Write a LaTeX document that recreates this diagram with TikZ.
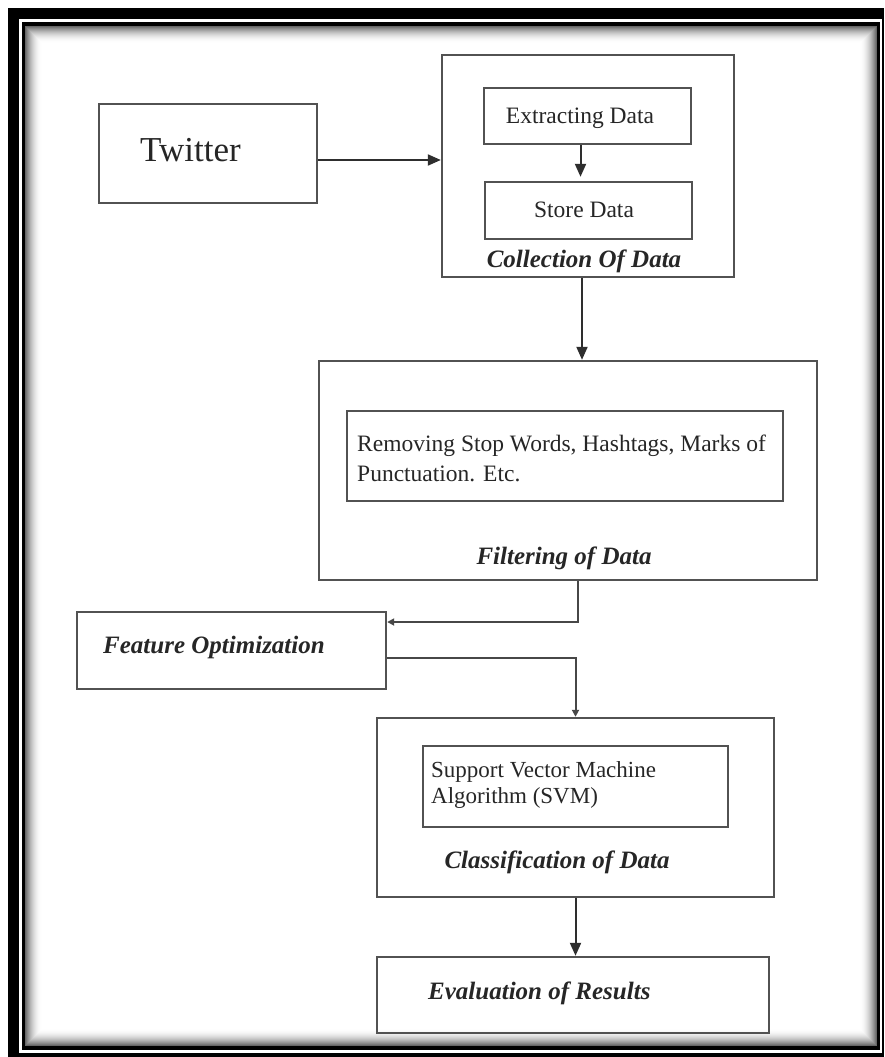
\documentclass[tikz,border=0pt]{standalone}
\usepackage{fontspec}
\setmainfont{Liberation Serif}
\usetikzlibrary{arrows.meta}
\begin{document}
\begin{tikzpicture}[x=1pt,y=-1pt,
  box/.style={draw=black!68, line width=2.4pt, fill=none, inner sep=0pt},
  txt/.style={text=black!85, inner sep=0pt},
  reg/.style={txt, font=\fontsize{23.5}{30}\selectfont},
  ttl/.style={txt, font=\fontsize{25}{30}\selectfont\bfseries\itshape},
  arr/.style={draw=black!82, line width=2pt, -{Triangle[length=13pt,width=11pt]}},
  arrs/.style={draw=black!72, line width=2pt, -{Triangle[length=7pt,width=7pt]}}
]
\useasboundingbox (0,0) rectangle (884,1057);
% frame
\fill[black] (8,8) rectangle (884,1057);
\fill[white] (19,19) rectangle (882,1053);
\fill[black] (22,22) rectangle (880,1050);
\foreach \i in {0,...,16}{
  \pgfmathsetmacro\g{60*(1-\i/17)^2}
  \fill[black!\g] (25+\i,26+\i) rectangle (877-\i,1046-\i);
}
\fill[white] (42,43) rectangle (860,1029);

% boxes
\node[box, minimum width=218pt, minimum height=99pt] (twitter) at (208,153.5) {};
\node[box, minimum width=292pt, minimum height=222pt] (coll) at (588,166) {};
\node[box, minimum width=207pt, minimum height=56pt] (extract) at (587.5,116) {};
\node[box, minimum width=207pt, minimum height=57pt] (store) at (588.5,210.5) {};
\node[box, minimum width=498pt, minimum height=219pt] (filt) at (568,470.5) {};
\node[box, minimum width=436pt, minimum height=90pt] (remove) at (565,456) {};
\node[box, minimum width=309pt, minimum height=77pt] (feat) at (231.5,650.5) {};
\node[box, minimum width=397pt, minimum height=179pt] (class) at (575.5,807.5) {};
\node[box, minimum width=305pt, minimum height=81pt] (svm) at (575.5,786.5) {};
\node[box, minimum width=392pt, minimum height=76pt] (eval) at (573,995) {};

% texts
\node[txt, font=\fontsize{35}{40}\selectfont, anchor=west] (ttwitter) at (140,150) {Twitter};
\node[reg] (textract) at (580,118) {Extracting Data};
\node[reg] (tstore) at (584,210) {Store Data};
\node[ttl] (tcoll) at (584,261) {Collection Of Data};
\node[reg, anchor=west, align=left] (tremove) at (357,458) {Removing Stop Words, Hashtags, Marks of\\Punctuation. Etc.};
\node[ttl] (tfilt) at (564,558) {Filtering of Data};
\node[ttl, anchor=west] (tfeat) at (103,647) {Feature Optimization};
\node[reg, anchor=west, align=left, font=\fontsize{23}{26}\selectfont] (tsvm) at (431,785) {Support Vector Machine\\Algorithm (SVM)};
\node[ttl] (tclass) at (557,862) {Classification of Data};
\node[ttl, anchor=west] (teval) at (428,993) {Evaluation of Results};

% connectors
\draw[arr] ([yshift=-6.5pt]twitter.east) -- ([yshift=-6.5pt]twitter.east -| coll.west);
\draw[arr, shorten >=4pt] ([xshift=-7pt]extract.south) -- ([xshift=-7pt]extract.south |- store.north);
\draw[arr] ([xshift=-6pt]coll.south) -- ([xshift=-6pt]coll.south |- filt.north);
\draw[arrs] ([xshift=10pt]filt.south) |- ([yshift=28.5pt]feat.east);
\draw[arrs] ([yshift=-7.5pt]feat.east) -| (class.north);
\draw[arr] (class.south) -- (class.south |- eval.north);
\end{tikzpicture}
\end{document}
